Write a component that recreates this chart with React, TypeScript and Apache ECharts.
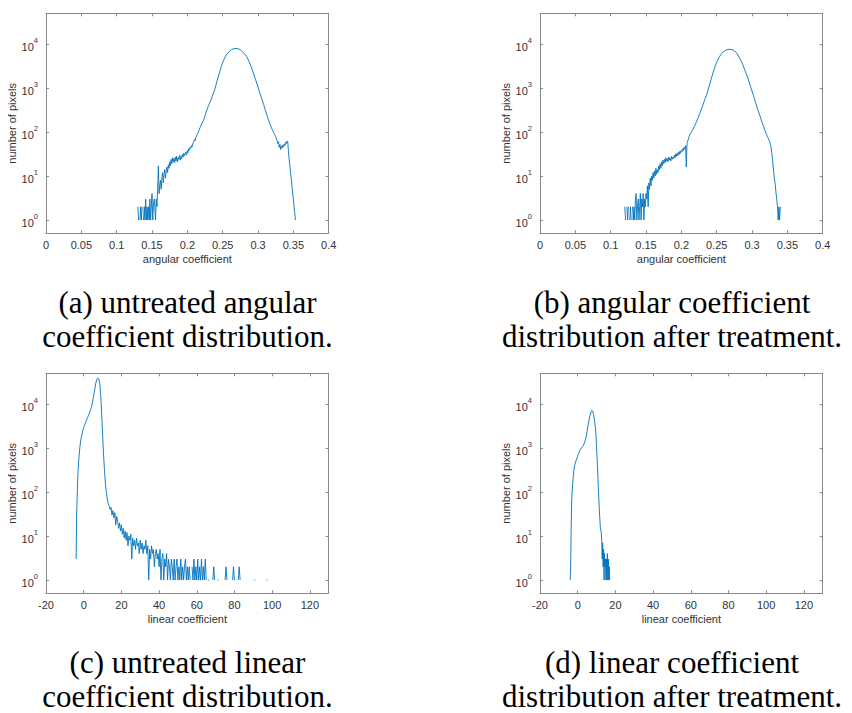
import React, { useEffect, useRef } from "react";
import * as echarts from "echarts";

type Pt = [number, number | null];

// (a) untreated angular coefficient histogram: [angular coefficient, number of pixels]
const untreatedAngular: Pt[] = [
  [0.128, 1], [0.129, null], [0.130, 2], [0.131, 1], [0.132, null], [0.133, 1], [0.134, 2], [0.135, 1],
  [0.136, 2], [0.137, null], [0.138, 1], [0.139, 2], [0.140, 1], [0.141, 3], [0.142, 1], [0.143, 2],
  [0.144, 1], [0.145, 2], [0.146, 1], [0.147, 3], [0.148, 1], [0.149, 2], [0.150, 4], [0.151, 1],
  [0.152, 2], [0.153, 3], [0.154, 2], [0.155, 1], [0.156, 3], [0.157, 2], [0.158, 5], [0.159, 17],
  [0.160, 4], [0.161, 6], [0.162, 8], [0.163, 5], [0.164, 9], [0.165, 12], [0.166, 7], [0.167, 11],
  [0.168, 14], [0.169, 9], [0.170, 13], [0.171, 16], [0.172, 12], [0.173, 18], [0.174, 15], [0.175, 21],
  [0.176, 17], [0.177, 24], [0.178, 19], [0.179, 26], [0.180, 21], [0.181, 25], [0.182, 20], [0.183, 27],
  [0.184, 22], [0.185, 28], [0.186, 21], [0.187, 26], [0.188, 24], [0.189, 30], [0.190, 23], [0.191, 28],
  [0.192, 25], [0.193, 31], [0.194, 27], [0.195, 33], [0.196, 29], [0.197, 32], [0.198, 35], [0.199, 30],
  [0.200, 38], [0.201, 34], [0.202, 42], [0.203, 39], [0.204, 46], [0.205, 43], [0.206, 50], [0.207, 47],
  [0.208, 56], [0.209, 60], [0.210, 68], [0.211, 64], [0.212, 75], [0.213, 81], [0.214, 88], [0.215, 95],
  [0.218, 126], [0.221, 160], [0.224, 205], [0.227, 300], [0.230, 400], [0.233, 520], [0.236, 700],
  [0.239, 950], [0.242, 1450], [0.245, 2100], [0.248, 3100], [0.251, 4200], [0.254, 5300], [0.257, 6200],
  [0.260, 6950], [0.263, 7550], [0.266, 7850], [0.269, 7950], [0.272, 7800], [0.275, 7400], [0.278, 6700],
  [0.281, 6000], [0.284, 5200], [0.287, 4100], [0.290, 3100], [0.293, 2300], [0.296, 1650], [0.299, 1180],
  [0.302, 820], [0.305, 590], [0.308, 420], [0.311, 290], [0.314, 205], [0.317, 150], [0.320, 115],
  [0.322, 98], [0.323, 92], [0.324, 85], [0.325, 78], [0.326, 70], [0.327, 64], [0.328, 55], [0.329, 60],
  [0.330, 45], [0.331, 52], [0.332, 40], [0.333, 48], [0.334, 43], [0.335, 50], [0.336, 46], [0.337, 54],
  [0.338, 49], [0.339, 58], [0.340, 55], [0.341, 63], [0.342, 60], [0.343, 38], [0.344, 24], [0.345, 18],
  [0.346, 12], [0.347, 9], [0.348, 6], [0.349, 4], [0.350, 3], [0.351, 2], [0.352, 2], [0.353, 1], [0.354, 1],
];

// (b) angular coefficient histogram after treatment
const treatedAngular: Pt[] = [
  [0.120, 2], [0.121, 1], [0.122, null], [0.123, 2], [0.124, 1], [0.125, 2], [0.126, null], [0.127, 1],
  [0.128, 2], [0.129, 1], [0.130, null], [0.131, 2], [0.132, 1], [0.133, 2], [0.134, 1], [0.135, 3],
  [0.136, 4], [0.137, 1], [0.138, 2], [0.139, 3], [0.140, 1], [0.141, 2], [0.142, 4], [0.143, 1],
  [0.144, 3], [0.145, 2], [0.146, 4], [0.147, 1], [0.148, 3], [0.149, 2], [0.150, 4], [0.151, 3],
  [0.152, 6], [0.153, 2], [0.154, 7], [0.155, 5], [0.156, 9], [0.157, 6], [0.158, 10], [0.159, 8],
  [0.160, 12], [0.161, 9], [0.162, 13], [0.163, 10], [0.164, 15], [0.165, 11], [0.166, 14], [0.167, 12],
  [0.168, 17], [0.169, 14], [0.170, 19], [0.171, 15], [0.172, 21], [0.173, 17], [0.174, 23], [0.175, 19],
  [0.176, 24], [0.177, 20], [0.178, 26], [0.179, 22], [0.180, 25], [0.181, 21], [0.182, 27], [0.183, 23],
  [0.184, 26], [0.185, 22], [0.186, 28], [0.187, 24], [0.188, 27], [0.189, 25], [0.190, 30], [0.191, 26],
  [0.192, 32], [0.193, 28], [0.194, 33], [0.195, 29], [0.196, 35], [0.197, 31], [0.198, 37], [0.199, 33],
  [0.200, 39], [0.201, 36], [0.202, 42], [0.203, 38], [0.204, 45], [0.205, 41], [0.206, 49], [0.207, 16],
  [0.208, 55], [0.209, 62], [0.210, 70], [0.211, 80], [0.212, 88], [0.215, 105], [0.218, 130], [0.221, 165],
  [0.224, 215], [0.227, 290], [0.230, 390], [0.233, 540], [0.236, 720], [0.239, 1050], [0.242, 1550],
  [0.245, 2300], [0.248, 3200], [0.251, 4200], [0.254, 5200], [0.257, 6100], [0.260, 6800], [0.263, 7250],
  [0.266, 7550], [0.269, 7600], [0.272, 7450], [0.275, 7050], [0.278, 6300], [0.281, 5300], [0.284, 4300],
  [0.287, 3400], [0.290, 2500], [0.293, 1900], [0.296, 1350], [0.299, 950], [0.302, 680], [0.305, 470],
  [0.308, 330], [0.311, 240], [0.314, 170], [0.317, 125], [0.320, 92], [0.321, 85], [0.322, 78],
  [0.323, 72], [0.324, 66], [0.325, 60], [0.326, 52], [0.327, 44], [0.328, 33], [0.329, 24], [0.330, 16],
  [0.331, 11], [0.332, 8], [0.333, 6], [0.334, 4], [0.335, 3], [0.336, 2], [0.337, 1], [0.338, 2],
  [0.339, 1], [0.340, 2],
];

// (c) untreated linear coefficient histogram
const untreatedLinear: Pt[] = [
  [-4.0, 3], [-3.75, 30], [-3.5, 70], [-3.25, 160], [-3.0, 300], [-2.5, 620], [-2.0, 1080], [-1.5, 1550],
  [-1.0, 1950], [-0.5, 2500], [0, 2950], [0.5, 3300], [1.0, 3800], [1.5, 4350], [2.0, 4900], [2.5, 5400],
  [3.0, 6200], [3.5, 7200], [4.0, 8200], [4.5, 10000], [5.0, 13500], [5.5, 17500], [6.0, 23000],
  [6.5, 31000], [7.0, 36500], [7.5, 39000], [8.0, 37500], [8.5, 30000], [9.0, 16500], [9.5, 6500],
  [10.0, 2200], [10.5, 750], [11.0, 330], [11.5, 160], [12.0, 100], [12.5, 72], [13.0, 55],
  [13.5, 48], [14.0, 40], [14.5, 45], [15.0, 30], [15.5, 38], [16.0, 26], [16.5, 34], [17.0, 18],
  [17.5, 28], [18.0, 22], [18.5, 15], [19.0, 20], [19.5, 13], [20.0, 18], [20.5, 11], [21.0, 15],
  [21.5, 9], [22.0, 13], [22.5, 8], [23.0, 12], [23.5, 6], [24.0, 10], [24.5, 8], [25.0, 11], [25.5, 3],
  [26.0, 9], [26.5, 6], [27.0, 8], [27.5, 5], [28.0, 9], [28.5, 6], [29.0, 7], [29.5, 4], [30.0, 8],
  [30.5, 5], [31.0, 7], [31.5, 4], [32.0, 6], [32.5, 5], [33.0, 8], [33.5, 4], [34.0, 6], [34.5, 1],
  [35.0, 5], [35.5, 3], [36.0, 6], [36.5, 4], [37.0, 5], [37.5, 2], [38.0, 4], [38.5, 5], [39.0, 3],
  [39.5, 4], [40.0, 2], [40.5, 5], [41.0, 1], [41.5, 3], [42.0, 4], [42.5, 1], [43.0, 3], [43.5, 2],
  [44.0, 4], [44.5, 1], [45.0, 3], [45.5, 2], [46.0, 1], [46.5, 3], [47.0, 2], [47.5, 1], [48.0, 3],
  [48.5, 1], [49.0, 2], [49.5, 3], [50.0, 1], [50.5, 2], [51.0, 1], [51.5, 3], [52.0, 1], [52.5, 2],
  [53.0, 1], [53.5, 2], [54.0, 3], [54.5, 1], [55.0, 2], [55.5, 1], [56.0, 2], [56.5, 1], [57.0, null],
  [57.5, 2], [58.0, 1], [58.5, 3], [59.0, 1], [59.5, 2], [60.0, 1], [60.5, 3], [61.0, 1], [61.5, 2],
  [62.0, 1], [62.5, 3], [63.0, 1], [63.5, 2], [64.0, 1], [64.5, 3], [65.0, 1], [65.5, null], [66.0, 1],
  [66.5, 1], [67.0, null], [68.5, 1], [69.0, 2], [69.5, 1], [70.0, null], [71.0, 1], [71.5, 1], [72.0, null],
  [75.0, 1], [75.5, 2], [76.0, 1], [76.5, null], [79.0, 1], [79.5, 2], [80.0, 1], [80.5, null], [82.0, 1],
  [82.5, 2], [83.0, 1], [83.5, null], [90.5, 1], [91.0, 1], [91.5, null], [97.0, 1], [97.5, 1],
];

// (d) linear coefficient histogram after treatment
const treatedLinear: Pt[] = [
  [-4.0, 1], [-3.75, 2], [-3.5, 12], [-3.25, 48], [-3.0, 100], [-2.5, 190], [-2.0, 320], [-1.5, 420],
  [-1.0, 500], [-0.5, 560], [0.0, 650], [0.5, 760], [1.0, 850], [1.5, 930], [2.0, 1000], [2.5, 1070],
  [3.0, 1150], [3.5, 1300], [4.0, 1500], [4.5, 1850], [5.0, 2400], [5.5, 3300], [6.0, 4300], [6.5, 5400],
  [7.0, 6400], [7.5, 7100], [8.0, 6900], [8.5, 5600], [9.0, 3900], [9.5, 2700], [10.0, 1100], [10.5, 380],
  [11.0, 110], [11.5, 38], [12.0, 16], [12.5, 12], [12.75, 8], [13.0, 3], [13.25, 7], [13.5, 2],
  [13.75, 5], [14.0, 1], [14.25, 4], [14.5, 2], [14.75, 3], [15.0, 1], [15.25, 3], [15.5, 1], [15.75, 4],
  [16.0, 1], [16.25, 3], [16.5, 1], [16.75, 2], [17.0, 1],
];

const angularTicks = { min: 0, max: 0.4, interval: 0.05 };
const linearTicks = { min: -20, max: 130, interval: 20 };
const countRange = { min: 0.5, max: 50000 };

const captions = [
  ["(a) untreated angular", "coefficient distribution."],
  ["(b) angular coefficient", "distribution after treatment."],
  ["(c) untreated linear", "coefficient distribution."],
  ["(d) linear coefficient", "distribution after treatment."],
];

const panels = [
  { data: untreatedAngular, ticks: angularTicks, xName: "angular coefficient" },
  { data: treatedAngular, ticks: angularTicks, xName: "angular coefficient" },
  { data: untreatedLinear, ticks: linearTicks, xName: "linear coefficient" },
  { data: treatedLinear, ticks: linearTicks, xName: "linear coefficient" },
];

const AXIS_COLOR = "#8a8a8a";
const TEXT_COLOR = "#333333";
const SANS = '"Liberation Sans", Arial, Helvetica, sans-serif';

const gridPos = [
  { left: 46, top: 13.3 },
  { left: 540, top: 13.3 },
  { left: 46, top: 373.3 },
  { left: 540, top: 373.3 },
];
const GW = 282.7;
const GH = 220;

const captionPos = [
  { x: 187.5, y: 302 },
  { x: 672, y: 302 },
  { x: 187.5, y: 662 },
  { x: 672, y: 662 },
];

function logLabel(v: number): string {
  const e = Math.log10(v);
  const r = Math.round(e);
  if (Math.abs(e - r) < 1e-6) return `{b|10}{s|${r}}`;
  return "";
}

export default function App() {
  const ref = useRef<HTMLDivElement>(null);
  useEffect(() => {
    if (!ref.current) return;
    const chart = echarts.init(ref.current, undefined, { renderer: "svg" });
    const grid: any[] = [];
    const xAxis: any[] = [];
    const yAxis: any[] = [];
    const series: any[] = [];
    const graphic: any[] = [];
    panels.forEach((p, i) => {
      grid.push({ left: gridPos[i].left, top: gridPos[i].top, width: GW, height: GH, containLabel: false });
      const isLinear = p.ticks === linearTicks;
      const lineStyle = { color: AXIS_COLOR, width: 1 };
      xAxis.push({
        type: "value",
        gridIndex: i,
        position: "bottom",
        min: p.ticks.min,
        max: p.ticks.max,
        interval: p.ticks.interval,
        name: p.xName,
        nameLocation: "middle",
        nameGap: 20,
        nameTextStyle: { color: TEXT_COLOR, fontSize: 11, fontFamily: SANS },
        axisLine: { show: true, onZero: false, lineStyle },
        axisTick: { show: true, inside: true, length: 3, lineStyle },
        axisLabel: {
          color: TEXT_COLOR,
          fontSize: 11,
          fontFamily: SANS,
          margin: 6,
          showMaxLabel: !isLinear,
          showMinLabel: true,
        },
        splitLine: { show: false },
      });
      xAxis.push({
        type: "value",
        gridIndex: i,
        position: "top",
        min: p.ticks.min,
        max: p.ticks.max,
        interval: p.ticks.interval,
        axisLine: { show: true, onZero: false, lineStyle },
        axisTick: { show: true, inside: true, length: 3, lineStyle },
        axisLabel: { show: false },
        splitLine: { show: false },
      });
      yAxis.push({
        type: "log",
        gridIndex: i,
        position: "left",
        min: countRange.min,
        max: countRange.max,
        name: "number of pixels",
        nameLocation: "middle",
        nameGap: 21,
        nameRotate: 90,
        nameTextStyle: { color: TEXT_COLOR, fontSize: 11, fontFamily: SANS },
        axisLine: { show: true, onZero: false, lineStyle },
        axisTick: { show: true, inside: true, length: 3, lineStyle },
        axisLabel: {
          color: TEXT_COLOR,
          margin: 8,
          formatter: logLabel,
          rich: {
            b: { fontSize: 11, fontFamily: SANS, color: TEXT_COLOR, verticalAlign: "bottom", lineHeight: 16 },
            s: { fontSize: 7.5, fontFamily: SANS, color: TEXT_COLOR, verticalAlign: "top", lineHeight: 16 },
          },
        },
        splitLine: { show: false },
      });
      yAxis.push({
        type: "log",
        gridIndex: i,
        position: "right",
        min: countRange.min,
        max: countRange.max,
        axisLine: { show: true, onZero: false, lineStyle },
        axisTick: { show: true, inside: true, length: 3, lineStyle },
        axisLabel: { show: false },
        splitLine: { show: false },
      });
      series.push({
        type: "line",
        xAxisIndex: i * 2,
        yAxisIndex: i * 2,
        data: p.data.map(([x, y]) => [x, y === null ? "-" : y]),
        showSymbol: false,
        connectNulls: false,
        lineStyle: { color: "#0072BD", width: 0.9 },
        itemStyle: { color: "#0072BD" },
        silent: true,
      });
      captions[i].forEach((t, k) => {
        graphic.push({
          type: "text",
          x: captionPos[i].x,
          y: captionPos[i].y + k * 34,
          style: {
            text: t,
            textAlign: "center",
            textVerticalAlign: "middle",
            font: '31px "Liberation Serif", "Times New Roman", serif',
            fill: "#000000",
          },
        });
      });
    });
    chart.setOption({
      animation: false,
      backgroundColor: "#ffffff",
      grid,
      xAxis,
      yAxis,
      series,
      graphic,
    });
    return () => chart.dispose();
  }, []);
  return (
    <div
      ref={ref}
      style={{ position: "absolute", left: 0, top: 0, width: 852, height: 713, background: "#fff" }}
    />
  );
}
